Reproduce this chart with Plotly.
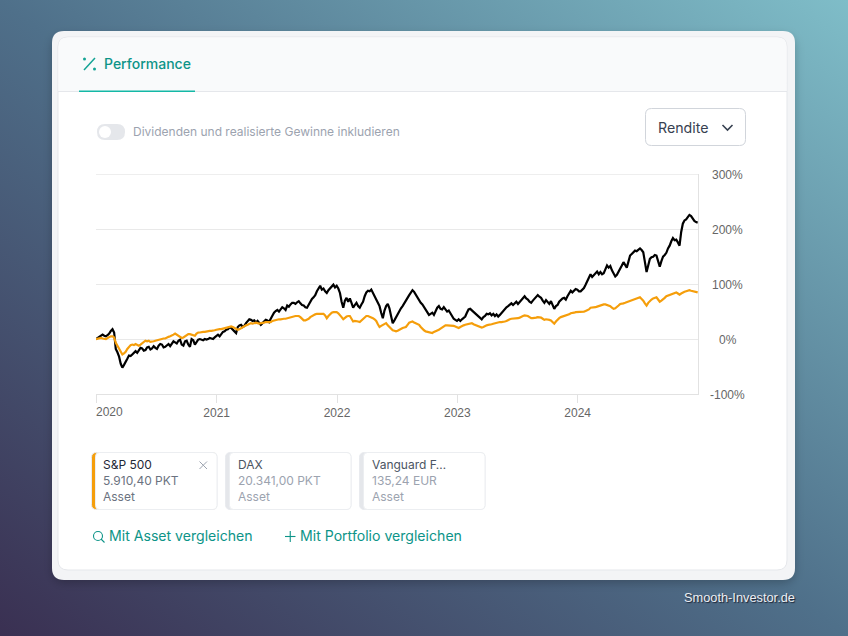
import urllib.parse

import pandas as pd
import plotly.graph_objects as go

W, H = 848, 636

dates = pd.date_range("2020-01-01", "2024-12-31", freq="5D")

portfolio = [
    0, 2, 4, 7, 8, 6, 5, 7, 10, 15, 18, 12, -18, -24, -32, -45, -52, -47, -40, -36,
    -30, -31, -28, -24, -22, -25, -20, -16, -17, -21, -20, -15, -14, -19, -17, -13, -16, -18, -12, -9,
    -10, -15, -14, -11, -9, -13, -8, -4, -6, -8, -3, -1, -10, -12, -4, -3, -10, -14, 0, -2,
    -10, -6, -1, 0, -1, -2, 0, -1, 0, 2, 1, 0, 3, 6, 8, 5, 10, 13, 14, 17,
    18, 21, 20, 16, 14, 11, 22, 25, 26, 22, 24, 29, 32, 36, 35, 33, 34, 30, 33, 30,
    26, 29, 32, 35, 34, 31, 37, 43, 48, 51, 53, 50, 55, 58, 56, 53, 61, 59, 63, 66,
    66, 64, 67, 69, 65, 62, 61, 58, 57, 63, 69, 73, 76, 80, 87, 93, 97, 90, 92, 87,
    84, 89, 93, 96, 99, 94, 97, 92, 84, 68, 57, 70, 75, 68, 74, 66, 57, 62, 66, 60,
    57, 63, 68, 78, 85, 88, 87, 90, 83, 77, 72, 66, 60, 48, 38, 52, 60, 64, 56, 42,
    29, 34, 40, 46, 50, 56, 60, 66, 69, 75, 80, 85, 89, 86, 81, 76, 70, 66, 63, 58,
    52, 47, 44, 46, 48, 44, 52, 57, 60, 55, 54, 58, 54, 50, 52, 46, 40, 37, 35, 33,
    36, 33, 36, 38, 41, 48, 54, 55, 52, 49, 47, 44, 41, 38, 36, 40, 42, 46, 45, 47,
    43, 46, 42, 45, 41, 44, 48, 52, 55, 58, 60, 63, 65, 62, 66, 68, 64, 68, 72, 76,
    78, 74, 72, 68, 66, 70, 74, 78, 80, 77, 75, 70, 66, 71, 68, 64, 69, 62, 55, 60,
    62, 68, 72, 74, 75, 72, 78, 83, 88, 85, 88, 91, 90, 87, 87, 90, 93, 99, 105, 112,
    118, 113, 116, 120, 123, 118, 122, 118, 120, 127, 134, 130, 133, 125, 120, 114, 117, 122, 128, 134,
    140, 136, 130, 141, 152, 155, 158, 161, 160, 163, 165, 162, 158, 140, 122, 134, 146, 149, 150, 153,
    152, 142, 132, 142, 150, 153, 157, 165, 170, 178, 184, 180, 181, 176, 170, 195, 210, 216, 218, 222,
    226, 224, 219, 215, 213, 212,
]

sp500 = [
    0, 1, 2, 2, 1, 0, 0, 2, 4, 5, 5, 3, -7, -12, -18, -24, -28, -26, -23, -18,
    -14, -11, -10, -11, -9, -11, -12, -10, -8, -5, -3, -4, -3, -5, -5, -4, -3, -2, -1, -1,
    0, 1, 1, 3, 4, 5, 6, 8, 10, 8, 6, 4, 2, 3, 5, 8, 9, 9, 8, 7,
    6, 10, 12, 12, 13, 13, 13, 14, 14, 15, 15, 15, 16, 17, 18, 18, 18, 19, 20, 20,
    21, 22, 23, 22, 20, 18, 17, 18, 20, 22, 23, 25, 26, 28, 29, 28, 29, 30, 29, 28,
    29, 29, 30, 31, 31, 30, 31, 33, 34, 35, 35, 36, 36, 37, 37, 37, 38, 38, 39, 40,
    41, 42, 42, 42, 40, 37, 34, 34, 35, 37, 40, 42, 44, 45, 46, 46, 46, 47, 46, 43,
    38, 42, 46, 48, 49, 49, 49, 47, 44, 40, 36, 39, 41, 42, 42, 37, 32, 33, 33, 32,
    31, 34, 37, 40, 42, 42, 41, 40, 38, 36, 33, 27, 22, 24, 26, 28, 29, 25, 22, 19,
    16, 15, 14, 15, 17, 18, 20, 21, 22, 26, 30, 31, 32, 30, 29, 28, 26, 22, 18, 16,
    14, 13, 13, 12, 11, 13, 14, 15, 17, 19, 21, 23, 25, 25, 25, 25, 25, 24, 23, 21,
    20, 22, 24, 25, 26, 27, 28, 29, 29, 27, 26, 24, 23, 22, 21, 22, 24, 25, 26, 26,
    27, 28, 29, 30, 31, 31, 31, 31, 32, 33, 35, 36, 37, 37, 38, 38, 38, 39, 41, 42,
    43, 43, 42, 40, 38, 38, 38, 39, 40, 40, 39, 37, 35, 36, 36, 35, 34, 31, 28, 32,
    36, 38, 40, 41, 42, 42, 43, 45, 47, 47, 48, 49, 49, 49, 49, 50, 50, 51, 52, 54,
    57, 57, 58, 58, 59, 60, 62, 62, 63, 63, 62, 61, 60, 57, 55, 56, 58, 61, 64, 64,
    65, 66, 67, 68, 70, 71, 72, 72, 73, 75, 76, 73, 70, 65, 61, 66, 70, 72, 74, 75,
    76, 72, 68, 70, 72, 75, 78, 79, 80, 81, 82, 84, 85, 83, 81, 83, 85, 86, 87, 88,
    89, 88, 87, 86, 85, 85,
]

y_ticks = [300, 200, 100, 0, -100]
x_ticks = ["2020-01-01", "2021-01-01", "2022-01-01", "2023-01-01", "2024-01-01"]
x_labels = ["", "2021", "2022", "2023", "2024"]

asset_names = ["S&P 500", "DAX", "Vanguard F…"]
asset_prices = ["5.910,40 PKT", "20.341,00 PKT", "135,24 EUR"]
asset_kinds = ["Asset", "Asset", "Asset"]

TEAL = "#0d9488"
ORANGE = "#f59e0b"
UI_FONT = "Inter"
CHART_FONT = "Liberation Sans"


def X(px):
    return px / W


def Y(py):
    return 1 - py / H


def round_rect(x0, y0, x1, y1, r):
    pts = [
        f"M{X(x0 + r)},{Y(y0)}", f"L{X(x1 - r)},{Y(y0)}", f"Q{X(x1)},{Y(y0)} {X(x1)},{Y(y0 + r)}",
        f"L{X(x1)},{Y(y1 - r)}", f"Q{X(x1)},{Y(y1)} {X(x1 - r)},{Y(y1)}",
        f"L{X(x0 + r)},{Y(y1)}", f"Q{X(x0)},{Y(y1)} {X(x0)},{Y(y1 - r)}",
        f"L{X(x0)},{Y(y0 + r)}", f"Q{X(x0)},{Y(y0)} {X(x0 + r)},{Y(y0)}", "Z",
    ]
    return " ".join(pts)


def box(x0, y0, x1, y1, r, fill, line=None, width=1):
    return dict(
        type="path", xref="paper", yref="paper", path=round_rect(x0, y0, x1, y1, r),
        fillcolor=fill, line=dict(color=line or fill, width=width if line else 0), layer="below",
    )


def stroke(points, color, width=1.5):
    d = "M" + " L".join(f"{X(a)},{Y(b)}" for a, b in points)
    return dict(type="path", xref="paper", yref="paper", path=d, line=dict(color=color, width=width), layer="above")


def label(px, py, text, size=12, color="#9ca3af", anchor="left", family=UI_FONT, **font_extra):
    return dict(
        xref="paper", yref="paper", x=X(px), y=Y(py), text=text, showarrow=False,
        xanchor=anchor, yanchor="middle", borderpad=0, borderwidth=0,
        font=dict(size=size, color=color, family=family, **font_extra),
    )


# gradient page background with the soft card shadow
svg = f"""<svg xmlns='http://www.w3.org/2000/svg' width='{W}' height='{H}'>
<defs><linearGradient id='g' gradientUnits='userSpaceOnUse' x1='119' y1='725' x2='729' y2='-89'>
<stop offset='0' stop-color='#3a3052'/><stop offset='0.5' stop-color='#4f708a'/><stop offset='1' stop-color='#7fbdc8'/>
</linearGradient><filter id='b' x='-10%' y='-10%' width='120%' height='120%'><feGaussianBlur stdDeviation='5'/></filter></defs>
<rect width='{W}' height='{H}' fill='url(#g)'/>
<rect x='52' y='35' width='743' height='548' rx='12' fill='#000' fill-opacity='0.22' filter='url(#b)'/>
</svg>"""
background = "data:image/svg+xml," + urllib.parse.quote(svg)

shapes = [
    box(52, 31, 795, 580, 12, "#f3f4f6"),
    box(58, 37, 787, 570, 10, "#ffffff", "#e5e7eb"),
    box(58.5, 37.5, 786.5, 91, 9, "#f9fafb"),
    dict(type="rect", xref="paper", yref="paper", x0=X(58.5), x1=X(786.5), y0=Y(92), y1=Y(84), fillcolor="#f9fafb", line_width=0, layer="below"),
    dict(type="rect", xref="paper", yref="paper", x0=X(58), x1=X(787), y0=Y(92), y1=Y(91), fillcolor="#e5e7eb", line_width=0, layer="below"),
    dict(type="rect", xref="paper", yref="paper", x0=X(79), x1=X(195), y0=Y(92), y1=Y(90.5), fillcolor="#14b8a6", line_width=0, layer="below"),
    # plotly drops the gridline on the top edge of the range
    dict(type="line", xref="x domain", yref="y", x0=0, x1=1, y0=y_ticks[0], y1=y_ticks[0], line=dict(color="#e9e9e9", width=1), layer="below"),
    # toggle
    box(97, 124, 125, 140, 8, "#e5e7eb"),
    dict(type="circle", xref="paper", yref="paper", x0=X(99), x1=X(111), y0=Y(138), y1=Y(126), fillcolor="#ffffff", line_width=0, layer="below"),
    # dropdown
    box(645.5, 108.5, 745.5, 145.5, 6, "#ffffff", "#d1d5db"),
    stroke([(722.5, 125), (727.5, 130), (732.5, 125)], "#374151", 1.6),
    # percent icon
    stroke([(84, 70), (95, 58)], "#14a394", 1.5),
    dict(type="circle", xref="paper", yref="paper", x0=X(83), x1=X(86), y0=Y(60.5), y1=Y(57.5), fillcolor="#14a394", line_width=0),
    dict(type="circle", xref="paper", yref="paper", x0=X(93), x1=X(96), y0=Y(70.5), y1=Y(67.5), fillcolor="#14a394", line_width=0),
    # close cross
    stroke([(199.5, 461.5), (207, 469)], "#9ca3af", 1),
    stroke([(207, 461.5), (199.5, 469)], "#9ca3af", 1),
    # search and plus icons
    dict(type="circle", xref="paper", yref="paper", x0=X(93.5), x1=X(102.5), y0=Y(540.5), y1=Y(531.5), line=dict(color=TEAL, width=1.1)),
    stroke([(101, 539), (104.5, 542.5)], TEAL, 1.1),
    stroke([(285, 536.5), (295.5, 536.5)], TEAL, 1.1),
    stroke([(290.25, 531), (290.25, 542)], TEAL, 1.1),
]

card_x = [91, 225, 359]
text_x = [102.5, 237.5, 371.5]
stripe_colors = [ORANGE, "#e5e7eb", "#e5e7eb"]
name_colors = ["#1f2937", "#4b5563", "#4b5563"]
price_colors = ["#6b7280", "#9ca3af", "#9ca3af"]
annotations = [
    label(103.5, 64, "Performance", 14, TEAL, weight=500),
    label(133, 132, "Dividenden und realisierte Gewinne inkludieren", 12, "#9ca3af"),
    label(658, 127, "Rendite", 14.2, "#374151"),
    label(109, 536, "Mit Asset vergleichen", 14.1, TEAL),
    label(300, 536, "Mit Portfolio vergleichen", 14.1, TEAL),
    label(795, 597, "Smooth-Investor.de", 12.8, "#eceff3", "right", CHART_FONT, shadow="1px 1px 1px #1c2233"),
]
for i, cx in enumerate(card_x):
    shapes.append(box(cx + 0.5, 452.5, cx + 126, 509.5, 5, stripe_colors[i], "#e9ebef"))
    shapes.append(box(cx + 4.5, 452.5, cx + 126, 509.5, 4, "#ffffff", "#eceef1"))
    annotations.append(label(text_x[i], 464.6, asset_names[i], 12, name_colors[i]))
    annotations.append(label(text_x[i], 480.6, asset_prices[i], 12, price_colors[i]))
    annotations.append(label(text_x[i], 496.6, asset_kinds[i], 12, price_colors[i]))

# y labels are centred in the reference, axis tick labels cannot do that on the right side
for v in y_ticks:
    annotations.append(dict(
        xref="paper", yref="y", x=X(727.5), y=v, yshift=-1, text=f"{v}%", showarrow=False, xanchor="center", yanchor="middle",
        font=dict(size=12, color="#666666", family=CHART_FONT),
    ))
annotations.append(dict(
    xref="x", yref="paper", x=x_ticks[0], xshift=-1, y=Y(412), text="2020", showarrow=False, xanchor="left", yanchor="middle",
    borderpad=0, font=dict(size=12, color="#666666", family=CHART_FONT),
))

fig = go.Figure()
fig.add_trace(go.Scatter(x=dates, y=portfolio, mode="lines", name="Portfolio", line=dict(color="#000000", width=2.2)))
fig.add_trace(go.Scatter(x=dates, y=sp500, mode="lines", name="S&P 500", line=dict(color=ORANGE, width=2.2)))

fig.update_layout(
    width=W, height=H, margin=dict(l=0, r=0, t=0, b=0), showlegend=False,
    paper_bgcolor="rgba(0,0,0,0)", plot_bgcolor="rgba(0,0,0,0)",
    images=[dict(source=background, xref="paper", yref="paper", x=0, y=1, sizex=1, sizey=1, sizing="stretch", xanchor="left", yanchor="top", layer="below")],
    shapes=shapes, annotations=annotations,
    xaxis=dict(
        domain=[X(96), X(698)], type="date", range=["2020-01-01", "2024-12-31"], showgrid=False, zeroline=False,
        tickmode="array", tickvals=x_ticks, ticktext=x_labels, ticks="outside", ticklen=8, tickcolor="#e2e2e2", tickwidth=1,
        showline=True, linecolor="#e2e2e2", linewidth=1, tickfont=dict(size=12, color="#666666", family=CHART_FONT),
    ),
    yaxis=dict(
        domain=[Y(394), Y(174)], range=[-100, 300.5], side="right", tickvals=y_ticks, showticklabels=False,
        ticks="", gridcolor="#e9e9e9", gridwidth=1, zeroline=False, showline=True, linecolor="#e2e2e2", linewidth=1,
    ),
)

fig.write_html("out.html", config=dict(displayModeBar=False), post_script="document.body.style.margin='0';document.body.style.overflow='hidden';")
